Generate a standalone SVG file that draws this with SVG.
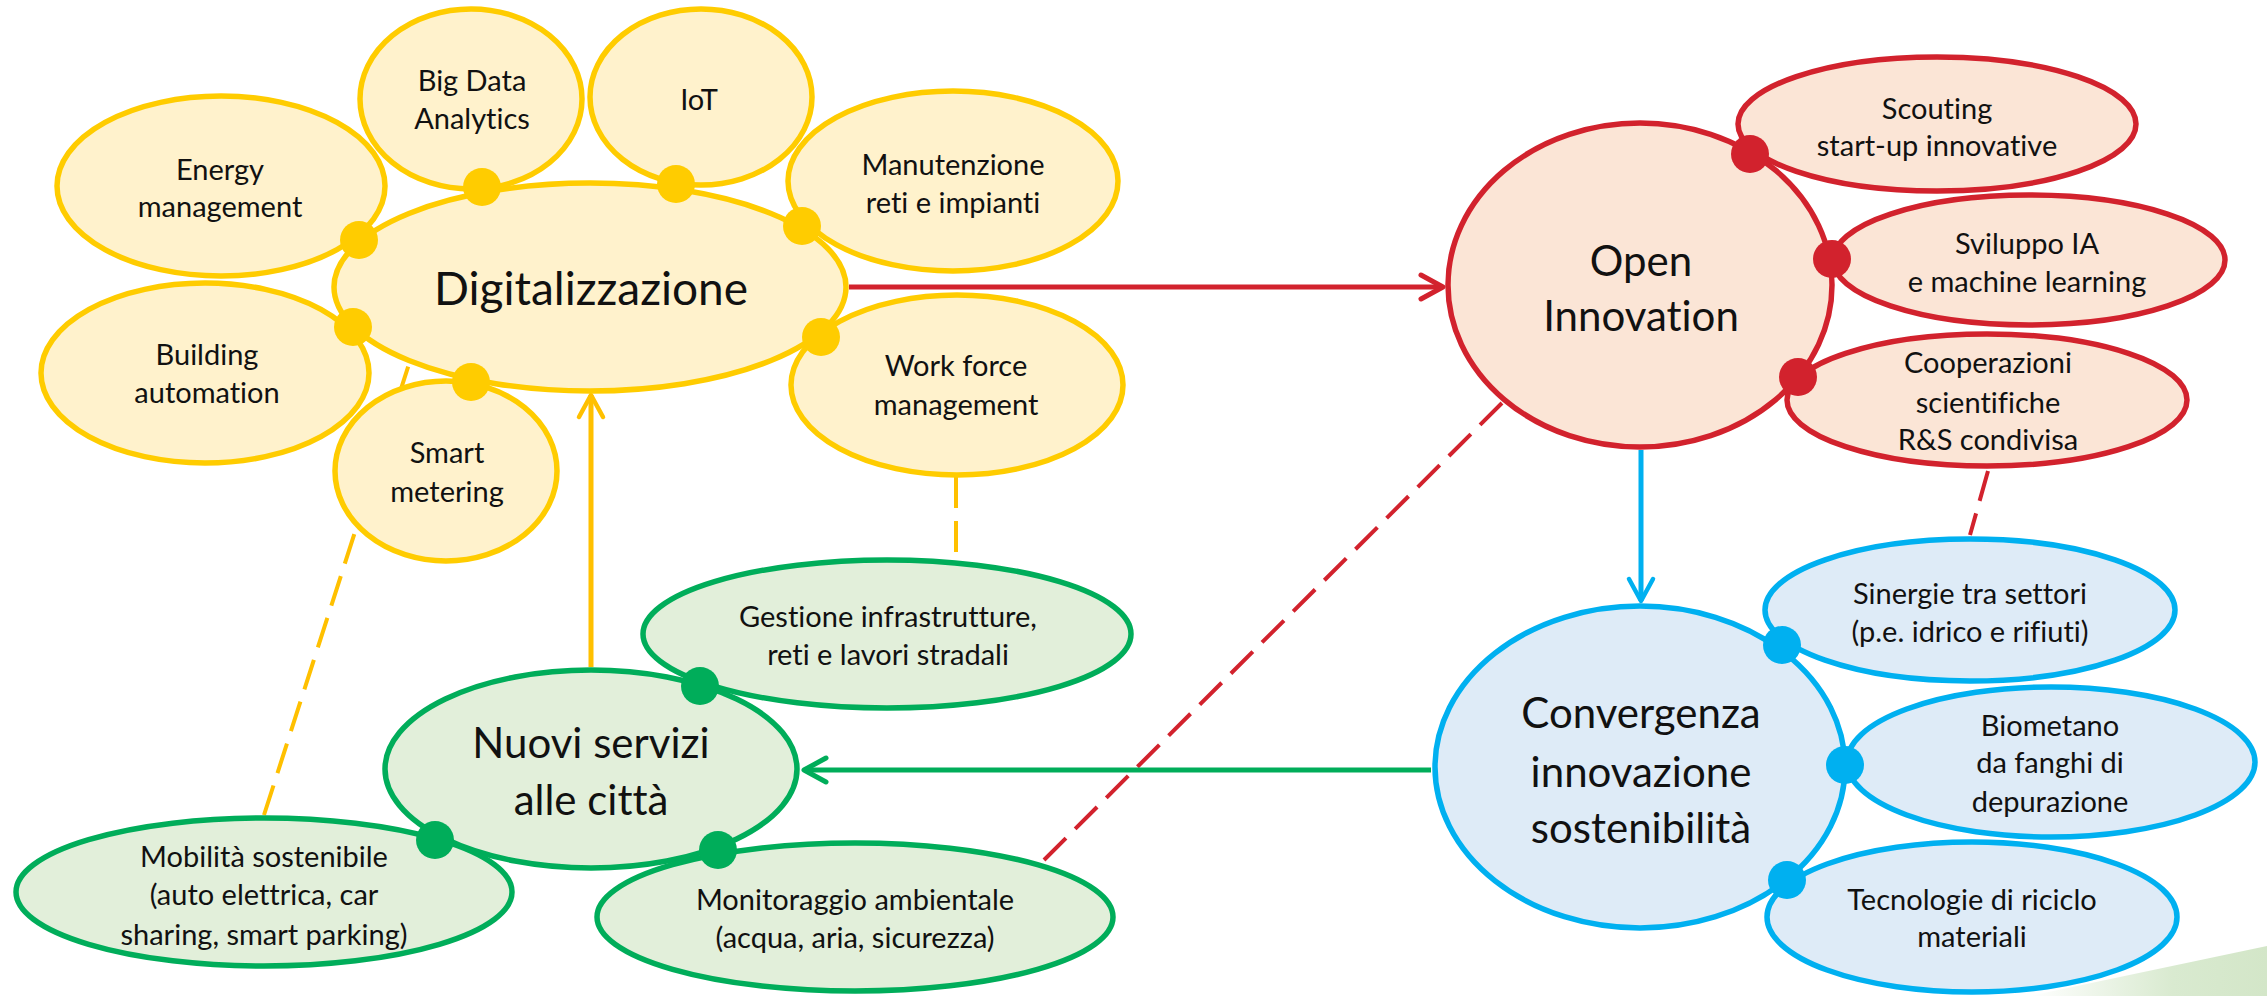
<svg xmlns="http://www.w3.org/2000/svg" width="2267" height="996" viewBox="0 0 2267 996">
<defs>
<style>
.y{fill:#FFF2CC;stroke:#FFCC00;stroke-width:5.5}
.g{fill:#E2EFDA;stroke:#00AD5A;stroke-width:5.5}
.r{fill:#FBE5D6;stroke:#D2222D;stroke-width:5.5}
.b{fill:#DEEBF7;stroke:#00B0F0;stroke-width:5.5}
.yd{fill:#FFCC00}.gd{fill:#00AD5A}.rd{fill:#D2222D}.bd{fill:#00B0F0}
text{font-family:Lato,"Open Sans","Liberation Sans",sans-serif;fill:#111;text-anchor:middle;font-variant-ligatures:none;font-feature-settings:"liga" 0,"clig" 0}
.s{font-size:29px}
.m{font-size:42px}
.dash{fill:none;stroke-width:4;stroke-dasharray:31 13}
.arr{fill:none;stroke-width:5}
</style>
<marker id="ahR" markerUnits="userSpaceOnUse" markerWidth="40" markerHeight="40" refX="0" refY="0" viewBox="-30 -20 40 40" orient="auto" overflow="visible"><path d="M-22,-12 L0,0 L-22,12" fill="none" stroke="#D2222D" stroke-width="5" stroke-linecap="round" stroke-linejoin="round"/></marker>
<marker id="ahY" markerUnits="userSpaceOnUse" markerWidth="40" markerHeight="40" refX="0" refY="0" viewBox="-30 -20 40 40" orient="auto" overflow="visible"><path d="M-22,-12 L0,0 L-22,12" fill="none" stroke="#FFC000" stroke-width="4.5" stroke-linecap="round" stroke-linejoin="round"/></marker>
<marker id="ahB" markerUnits="userSpaceOnUse" markerWidth="40" markerHeight="40" refX="0" refY="0" viewBox="-30 -20 40 40" orient="auto" overflow="visible"><path d="M-22,-12 L0,0 L-22,12" fill="none" stroke="#00B0F0" stroke-width="4.5" stroke-linecap="round" stroke-linejoin="round"/></marker>
<marker id="ahG" markerUnits="userSpaceOnUse" markerWidth="40" markerHeight="40" refX="0" refY="0" viewBox="-30 -20 40 40" orient="auto" overflow="visible"><path d="M-22,-12 L0,0 L-22,12" fill="none" stroke="#00AD5A" stroke-width="5" stroke-linecap="round" stroke-linejoin="round"/></marker>
<linearGradient id="wg" x1="0" y1="0" x2="1" y2="0"><stop offset="0" stop-color="#FFFFFF"/><stop offset="0.6" stop-color="#D9EAD0"/><stop offset="1" stop-color="#D3E6C8"/></linearGradient>
</defs>
<rect width="2267" height="996" fill="#FFFFFF"/>
<polygon points="2030,996 2267,946 2267,996" fill="url(#wg)"/>

<g id="connectors">
<line class="dash" stroke="#FFC000" x1="264" y1="815" x2="409" y2="364"/>
<line class="dash" stroke="#FFC000" x1="956" y1="477" x2="956" y2="553"/>
<line class="dash" stroke="#D2222D" x1="1502" y1="403" x2="1042" y2="862"/>
<line class="dash" stroke="#D2222D" x1="1988" y1="471" x2="1970" y2="535"/>
<line class="arr" stroke="#D2222D" x1="849" y1="287" x2="1443" y2="287" marker-end="url(#ahR)"/>
<line class="arr" stroke="#FFC000" stroke-width="4.5" x1="591" y1="667" x2="591" y2="395" marker-end="url(#ahY)"/>
<line class="arr" stroke="#00B0F0" stroke-width="4.5" x1="1641" y1="450" x2="1641" y2="601" marker-end="url(#ahB)"/>
<line class="arr" stroke="#00AD5A" x1="1431" y1="770" x2="804" y2="770" marker-end="url(#ahG)"/>
</g>

<g id="digitalizzazione">
<ellipse class="y" cx="590" cy="287" rx="256" ry="104"/>
<text x="591" y="305" font-size="46">Digitalizzazione</text>
</g>
<g id="energy">
<ellipse class="y" cx="221" cy="186" rx="164" ry="90"/>
<text class="s" x="220" y="180">Energy</text>
<text class="s" x="220" y="217">management</text>
</g>
<g id="bigdata">
<ellipse class="y" cx="471" cy="99" rx="111" ry="90"/>
<text class="s" x="472" y="91">Big Data</text>
<text class="s" x="472" y="129">Analytics</text>
</g>
<g id="iot">
<ellipse class="y" cx="701" cy="97" rx="111" ry="88"/>
<text class="s" x="699" y="110">IoT</text>
</g>
<g id="manutenzione">
<ellipse class="y" cx="953" cy="181" rx="165" ry="90"/>
<text class="s" x="953" y="175">Manutenzione</text>
<text class="s" x="953" y="213">reti e impianti</text>
</g>
<g id="workforce">
<ellipse class="y" cx="957" cy="385" rx="166" ry="90"/>
<text class="s" x="956" y="376">Work force</text>
<text class="s" x="956" y="415">management</text>
</g>
<g id="building">
<ellipse class="y" cx="205" cy="373" rx="164" ry="90"/>
<text class="s" x="207" y="365">Building</text>
<text class="s" x="207" y="403">automation</text>
</g>
<g id="smartmetering">
<ellipse class="y" cx="446" cy="471" rx="111" ry="90"/>
<text class="s" x="447" y="463">Smart</text>
<text class="s" x="447" y="502">metering</text>
</g>

<g id="nuoviservizi">
<ellipse class="g" cx="591" cy="769" rx="206" ry="99"/>
<text class="m" x="591" y="758">Nuovi servizi</text>
<text class="m" x="591" y="815">alle città</text>
</g>
<g id="gestione">
<ellipse class="g" cx="887" cy="634" rx="244" ry="74"/>
<text class="s" x="888" y="627">Gestione infrastrutture,</text>
<text class="s" x="888" y="665">reti e lavori stradali</text>
</g>
<g id="mobilita">
<ellipse class="g" cx="264" cy="892" rx="248" ry="74"/>
<text class="s" x="264" y="867">Mobilità sostenibile</text>
<text class="s" x="264" y="905">(auto elettrica, car</text>
<text class="s" x="264" y="945">sharing, smart parking)</text>
</g>
<g id="monitoraggio">
<ellipse class="g" cx="855" cy="917" rx="258" ry="74"/>
<text class="s" x="855" y="910">Monitoraggio ambientale</text>
<text class="s" x="855" y="948">(acqua, aria, sicurezza)</text>
</g>

<g id="openinnovation">
<ellipse class="r" cx="1640" cy="285" rx="192" ry="162"/>
<text class="m" x="1641" y="276">Open</text>
<text class="m" x="1641" y="331">Innovation</text>
</g>
<g id="scouting">
<ellipse class="r" cx="1937" cy="124" rx="199" ry="67"/>
<text class="s" x="1937" y="119">Scouting</text>
<text class="s" x="1937" y="156">start-up innovative</text>
</g>
<g id="sviluppo">
<ellipse class="r" cx="2029" cy="260" rx="196" ry="65"/>
<text class="s" x="2027" y="254">Sviluppo IA</text>
<text class="s" x="2027" y="292">e machine learning</text>
</g>
<g id="cooperazioni">
<ellipse class="r" cx="1987" cy="400" rx="200" ry="66"/>
<text class="s" x="1988" y="373">Cooperazioni</text>
<text class="s" x="1988" y="413">scientifiche</text>
<text class="s" x="1988" y="450">R&amp;S condivisa</text>
</g>

<g id="convergenza">
<ellipse class="b" cx="1640" cy="767" rx="205" ry="161"/>
<text class="m" x="1641" y="728">Convergenza</text>
<text class="m" x="1641" y="787">innovazione</text>
<text class="m" x="1641" y="843">sostenibilità</text>
</g>
<g id="sinergie">
<ellipse class="b" cx="1970" cy="610" rx="205" ry="71"/>
<text class="s" x="1970" y="604">Sinergie tra settori</text>
<text class="s" x="1970" y="642">(p.e. idrico e rifiuti)</text>
</g>
<g id="biometano">
<ellipse class="b" cx="2051" cy="762" rx="204" ry="75"/>
<text class="s" x="2050" y="736">Biometano</text>
<text class="s" x="2050" y="773">da fanghi di</text>
<text class="s" x="2050" y="812">depurazione</text>
</g>
<g id="tecnologie">
<ellipse class="b" cx="1972" cy="917" rx="205" ry="75"/>
<text class="s" x="1972" y="910">Tecnologie di riciclo</text>
<text class="s" x="1972" y="947">materiali</text>
</g>

<g id="dots">
<circle class="yd" cx="482" cy="187" r="19"/>
<circle class="yd" cx="676" cy="184" r="19"/>
<circle class="yd" cx="802" cy="226" r="19"/>
<circle class="yd" cx="359" cy="240" r="19"/>
<circle class="yd" cx="353" cy="327" r="19"/>
<circle class="yd" cx="471" cy="382" r="19"/>
<circle class="yd" cx="821" cy="337" r="19"/>
<circle class="gd" cx="700" cy="686" r="19"/>
<circle class="gd" cx="435" cy="840" r="19"/>
<circle class="gd" cx="718" cy="850" r="19"/>
<circle class="rd" cx="1750" cy="154" r="19"/>
<circle class="rd" cx="1832" cy="259" r="19"/>
<circle class="rd" cx="1798" cy="377" r="19"/>
<circle class="bd" cx="1782" cy="645" r="19"/>
<circle class="bd" cx="1845" cy="765" r="19"/>
<circle class="bd" cx="1787" cy="880" r="19"/>
</g>
</svg>
